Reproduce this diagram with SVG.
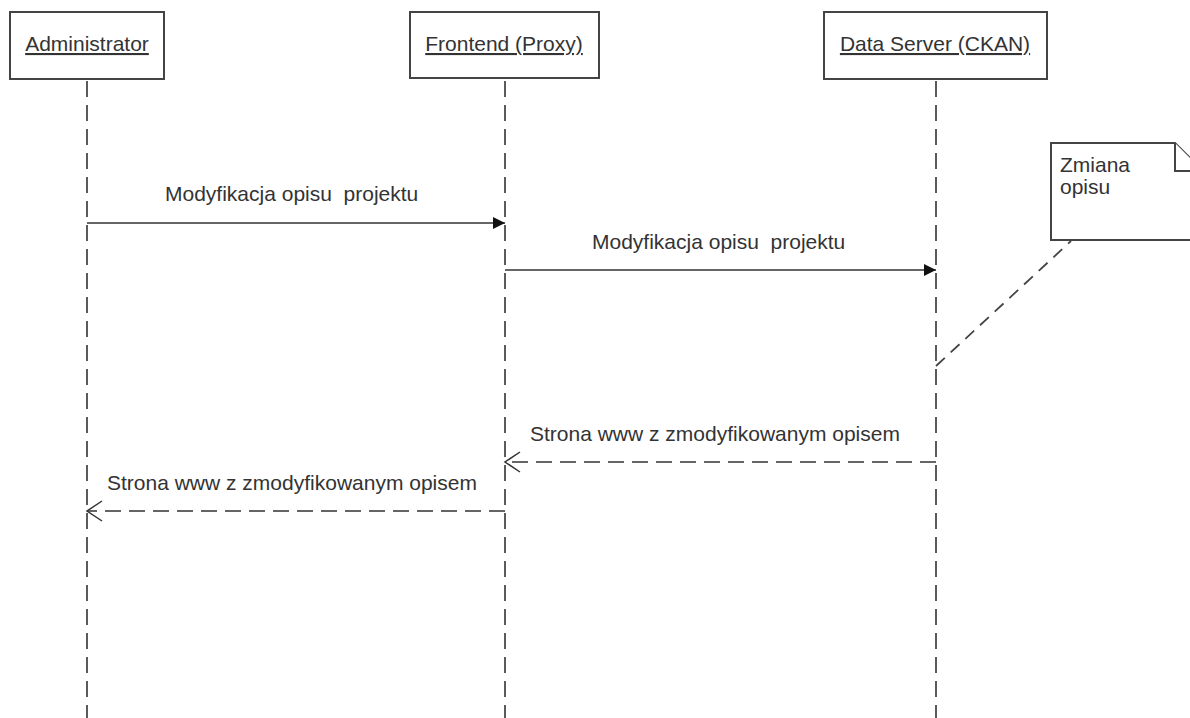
<svg xmlns="http://www.w3.org/2000/svg" width="1190" height="718" viewBox="0 0 1190 718">
  <style>
    text { font-family: "Liberation Sans", Arial, sans-serif; font-size: 21px; fill: #333; white-space: pre; }
    .actor rect { fill: #fff; stroke: #444; stroke-width: 2; }
    .actor text { text-decoration: underline; text-anchor: middle; }
    .lifeline { stroke: #333; stroke-width: 1.6; stroke-dasharray: 16 8; fill: none; }
    .call { stroke: #333; stroke-width: 1.5; fill: none; }
    .reply { stroke: #333; stroke-width: 1.5; fill: none; stroke-dasharray: 16 8; }
    .anchor { stroke: #444; stroke-width: 1.8; fill: none; stroke-dasharray: 12 8; }
    .note path { fill: #fff; stroke: #444; stroke-width: 2; }
  </style>
  <defs>
    <marker id="filled" markerWidth="14" markerHeight="14" refX="12" refY="7" orient="auto" markerUnits="userSpaceOnUse">
      <path d="M0,1 L12,7 L0,13 Z" fill="#111"/>
    </marker>
    <marker id="open" markerWidth="18" markerHeight="24" refX="16" refY="11" orient="auto" markerUnits="userSpaceOnUse">
      <path d="M1,1 L16,11 L1,21" fill="none" stroke="#333" stroke-width="1.5"/>
    </marker>
  </defs>

  <rect width="1190" height="718" fill="#fff"/>

  <!-- lifelines -->
  <g id="lifelines">
    <line class="lifeline" x1="87" y1="81" x2="87" y2="718"/>
    <line class="lifeline" x1="505" y1="81" x2="505" y2="718"/>
    <line class="lifeline" x1="936" y1="81" x2="936" y2="718"/>
  </g>

  <!-- participants -->
  <g id="administrator" class="actor">
    <rect x="10" y="12" width="154" height="67"/>
    <text x="87" y="51">Administrator</text>
  </g>
  <g id="frontend" class="actor">
    <rect x="410" y="12" width="189" height="66"/>
    <text x="504" y="51">Frontend (Proxy)</text>
  </g>
  <g id="data-server" class="actor">
    <rect x="824" y="12" width="223" height="67"/>
    <text x="935" y="51">Data Server (CKAN)</text>
  </g>

  <!-- note attached to the data server -->
  <g id="note" class="note">
    <path d="M1051,143 L1175,143 L1203,171 L1203,240 L1051,240 Z"/>
    <path d="M1175,143 L1175,171 L1203,171" fill="none"/>
    <text x="1060" y="172">Zmiana</text>
    <text x="1060" y="194">opisu</text>
  </g>

  <!-- messages -->
  <g id="connectors">
    <line class="call" x1="87" y1="223" x2="505" y2="223" marker-end="url(#filled)"/>
    <line class="call" x1="505" y1="270" x2="936" y2="270" marker-end="url(#filled)"/>
    <line class="reply" x1="936" y1="462" x2="505" y2="462" marker-end="url(#open)"/>
    <line class="reply" x1="505" y1="511" x2="87" y2="511" marker-end="url(#open)"/>
    <line class="anchor" x1="936" y1="366" x2="1071" y2="241"/>
  </g>

  <g id="labels">
    <text x="165" y="201" xml:space="preserve">Modyfikacja opisu  projektu</text>
    <text x="592" y="249" xml:space="preserve">Modyfikacja opisu  projektu</text>
    <text x="530" y="441">Strona www z zmodyfikowanym opisem</text>
    <text x="107" y="490">Strona www z zmodyfikowanym opisem</text>
  </g>
</svg>
